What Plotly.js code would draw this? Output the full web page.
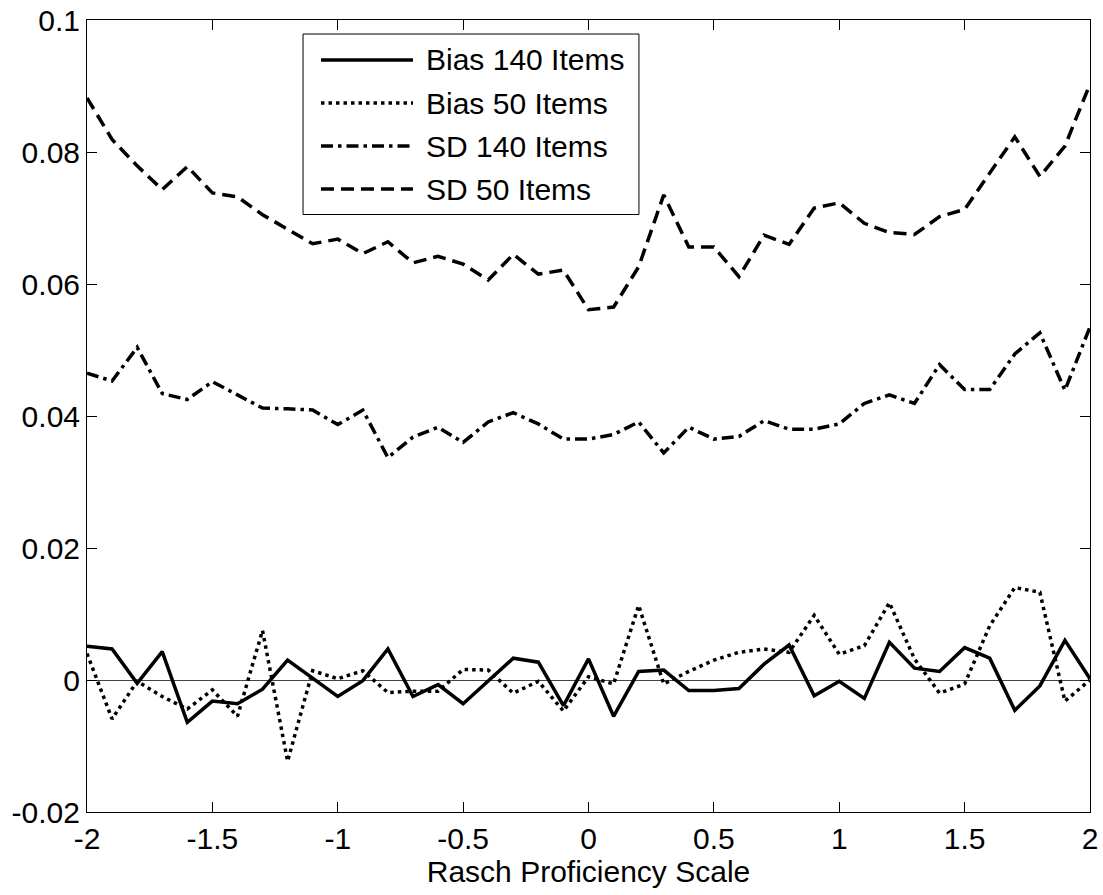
<!DOCTYPE html>
<html>
<head>
<meta charset="utf-8">
<script src="https://cdn.plot.ly/plotly-3.0.1.min.js"></script>
<style>
  html, body { margin: 0; padding: 0; background: #fff; }
  #chart { width: 1103px; height: 895px; }
</style>
</head>
<body>
<div id="chart"></div>
<script>
// Rasch proficiency points (-2 to 2 by 0.1)
const xVals = [-2.0,-1.9,-1.8,-1.7,-1.6,-1.5,-1.4,-1.3,-1.2,-1.1,-1.0,-0.9,-0.8,-0.7,-0.6,-0.5,-0.4,-0.3,-0.2,-0.1,
               0.0,0.1,0.2,0.3,0.4,0.5,0.6,0.7,0.8,0.9,1.0,1.1,1.2,1.3,1.4,1.5,1.6,1.7,1.8,1.9,2.0];

const bias140 = [0.0051,0.0047,-0.0005,0.0043,-0.0064,-0.0032,-0.0036,-0.0014,0.0030,0.0002,-0.0025,-0.0001,0.0047,-0.0025,-0.0007,-0.0036,-0.0002,0.0033,0.0027,-0.0039,
                 0.0032,-0.0055,0.0013,0.0015,-0.0016,-0.0016,-0.0013,0.0024,0.0053,-0.0024,-0.0002,-0.0028,0.0057,0.0018,0.0013,0.0049,0.0033,-0.0046,-0.0009,0.0060,0.0002];

const bias50 = [0.0040,-0.0059,-0.0002,-0.0025,-0.0044,-0.0015,-0.0055,0.0075,-0.0123,0.0014,0.0002,0.0014,-0.0019,-0.0017,-0.0017,0.0016,0.0015,-0.0020,-0.0002,-0.0047,
                0.0005,-0.0006,0.0113,-0.0006,0.0013,0.0030,0.0042,0.0047,0.0042,0.0098,0.0039,0.0052,0.0117,0.0032,-0.0020,-0.0006,0.0082,0.0140,0.0133,-0.0032,0.0000];

const sd140 = [0.0465,0.0453,0.0504,0.0434,0.0425,0.0452,0.0432,0.0412,0.0411,0.0409,0.0387,0.0409,0.0337,0.0368,0.0383,0.0360,0.0391,0.0405,0.0388,0.0365,
               0.0365,0.0372,0.0391,0.0344,0.0383,0.0365,0.0369,0.0393,0.0380,0.0380,0.0388,0.0419,0.0432,0.0419,0.0478,0.0440,0.0440,0.0494,0.0526,0.0439,0.0535];

const sd50 = [0.0882,0.0819,0.0779,0.0743,0.0778,0.0738,0.0732,0.0705,0.0683,0.0661,0.0668,0.0646,0.0664,0.0632,0.0642,0.0630,0.0606,0.0645,0.0615,0.0621,
              0.0561,0.0565,0.0626,0.0735,0.0656,0.0656,0.0611,0.0674,0.0660,0.0715,0.0723,0.0692,0.0678,0.0675,0.0702,0.0713,0.0768,0.0823,0.0763,0.0809,0.0903];

const seriesNames = ['Bias 140 Items', 'Bias 50 Items', 'SD 140 Items', 'SD 50 Items'];

const xTickVals = [-2, -1.5, -1, -0.5, 0, 0.5, 1, 1.5, 2];
const xTickText = ['-2', '-1.5', '-1', '-0.5', '0', '0.5', '1', '1.5', '2'];
const yTickVals = [-0.02, 0, 0.02, 0.04, 0.06, 0.08, 0.1];
const yTickText = ['-0.02', '0', '0.02', '0.04', '0.06', '0.08', '0.1'];
const xTitle = 'Rasch Proficiency Scale';

const FONT = 'Liberation Sans, Arial, Helvetica, sans-serif';
const FS = 30;
const LW = 3.5;
const dashes = ['solid', '3.5px,4px', '12px,5px,3.5px,5px', '13px,7px'];

const seriesY = [bias140, bias50, sd140, sd50];
const traces = seriesY.map((yy, i) => ({
  x: xVals, y: yy, name: seriesNames[i], mode: 'lines',
  line: { color: '#000', width: LW, dash: dashes[i] }
}));

// Legend box drawn in paper coordinates (MATLAB-style long line samples)
const legBox = { x0: 0.2154, x1: 0.5503, y0: 0.7544, y1: 0.9823 };
const legRowY = [0.9495, 0.8952, 0.8409, 0.7866];
const legLineX = [0.2333, 0.3250];
const legTextX = 0.3360;

const shapes = [{
  type: 'rect', xref: 'paper', yref: 'paper',
  x0: legBox.x0, x1: legBox.x1, y0: legBox.y0, y1: legBox.y1,
  line: { color: '#000', width: 1 }, fillcolor: '#fff', layer: 'above'
}];
const annotations = [];
seriesNames.forEach((nm, i) => {
  shapes.push({
    type: 'line', xref: 'paper', yref: 'paper',
    x0: legLineX[0], x1: legLineX[1], y0: legRowY[i], y1: legRowY[i],
    line: { color: '#000', width: LW, dash: dashes[i] }, layer: 'above'
  });
  annotations.push({
    xref: 'paper', yref: 'paper', x: legTextX, y: legRowY[i],
    xanchor: 'left', yanchor: 'middle', text: nm, showarrow: false,
    font: { family: FONT, size: FS, color: '#000' }
  });
});

const layout = {
  width: 1103, height: 895,
  margin: { l: 87, r: 13, t: 20, b: 83 },
  paper_bgcolor: '#fff', plot_bgcolor: '#fff',
  font: { family: FONT, size: FS, color: '#000' },
  showlegend: false,
  shapes: shapes,
  annotations: annotations,
  xaxis: {
    range: [-2, 2], tickmode: 'array', tickvals: xTickVals, ticktext: xTickText,
    ticks: 'inside', ticklen: 10, tickwidth: 1, tickcolor: '#000',
    showline: true, linecolor: '#000', linewidth: 1, mirror: 'ticks',
    showgrid: false, zeroline: false,
    title: { text: xTitle, font: { family: FONT, size: FS, color: '#000' }, standoff: 6 },
    tickfont: { family: FONT, size: FS, color: '#000' }
  },
  yaxis: {
    range: [-0.02, 0.1], tickmode: 'array', tickvals: yTickVals, ticktext: yTickText,
    ticks: 'inside', ticklen: 10, tickwidth: 1, tickcolor: '#000',
    showline: true, linecolor: '#000', linewidth: 1, mirror: 'ticks',
    showgrid: false, zeroline: true, zerolinecolor: '#444', zerolinewidth: 1,
    tickfont: { family: FONT, size: FS, color: '#000' }
  }
};

Plotly.newPlot('chart', traces, layout, { displayModeBar: false, staticPlot: true });
</script>
</body>
</html>
